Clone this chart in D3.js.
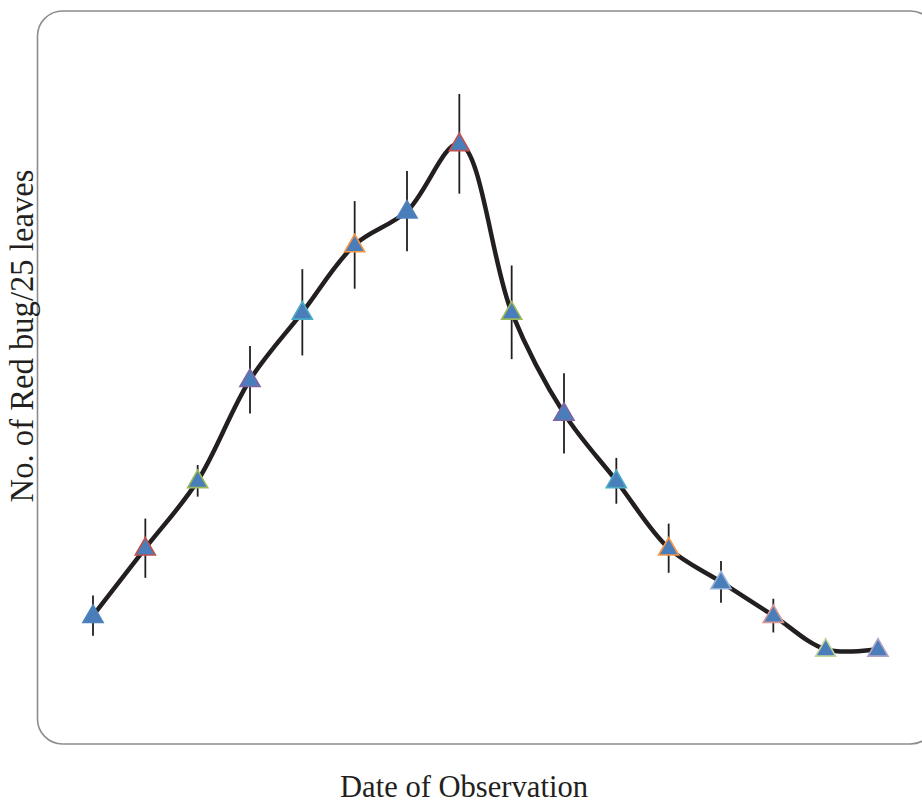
<!DOCTYPE html>
<html>
<head>
<meta charset="utf-8">
<script src="https://cdn.jsdelivr.net/npm/d3@7"></script>
<style>
  html, body { margin: 0; padding: 0; background: #fff; }
</style>
</head>
<body>
<div id="chart"></div>
<script>
// Observation dates (not labelled on the original chart)
const dates = ["Obs 1", "Obs 2", "Obs 3", "Obs 4", "Obs 5", "Obs 6", "Obs 7", "Obs 8",
  "Obs 9", "Obs 10", "Obs 11", "Obs 12", "Obs 13", "Obs 14", "Obs 15", "Obs 16"];
// Mean number of red bugs per 25 leaves
const bugs = [2, 4, 6, 9, 11, 13, 14, 16, 11, 8, 6, 4, 3, 2, 1, 1];
// Error bar half-lengths
const errors = [0.6, 0.88, 0.47, 1.0, 1.28, 1.3, 1.19, 1.48, 1.39, 1.19, 0.68, 0.73, 0.62, 0.5, 0, 0];
// Marker outline colours (Excel "vary colours by point")
const outline = ["#4f81bd", "#c0504d", "#9bbb59", "#8064a2", "#4bacc6", "#f79646",
  "#4f81bd", "#c0504d", "#9bbb59", "#8064a2", "#4bacc6", "#f79646",
  "#95b3d7", "#d99694", "#c3d69b", "#b3a2c7"];

const width = 922;
const height = 805;
const font = "'Palatino Linotype', Palatino, 'Book Antiqua', 'Liberation Serif', serif";

const data = dates.map((d, i) => ({ date: d, value: bugs[i], err: errors[i], stroke: outline[i] }));

const x = d3.scalePoint(dates, [93, 878]);
const y = d3.scaleLinear([0, 20], [683, 9]);

const svg = d3.select("#chart").append("svg")
  .attr("width", width)
  .attr("height", height)
  .attr("viewBox", [0, 0, width, height]);

// chart frame (rounded, runs off the right edge)
svg.append("rect")
  .attr("x", 37.5)
  .attr("y", 11)
  .attr("width", 898)
  .attr("height", 733)
  .attr("rx", 25)
  .attr("fill", "none")
  .attr("stroke", "#8c8c8c")
  .attr("stroke-width", 1.6);

// error bars
svg.append("g")
  .attr("stroke", "#231f20")
  .attr("stroke-width", 1.8)
  .selectAll("line")
  .data(data.filter(d => d.err > 0))
  .join("line")
  .attr("x1", d => x(d.date))
  .attr("x2", d => x(d.date))
  .attr("y1", d => y(d.value + d.err))
  .attr("y2", d => y(d.value - d.err));

// smoothed line
const line = d3.line()
  .x(d => x(d.date))
  .y(d => y(d.value))
  .curve(d3.curveCatmullRom.alpha(0.5));

svg.append("path")
  .datum(data)
  .attr("fill", "none")
  .attr("stroke", "#231f20")
  .attr("stroke-width", 4.5)
  .attr("d", line);

// triangle markers
const tri = d3.symbol(d3.symbolTriangle, 175);
svg.append("g")
  .selectAll("path")
  .data(data)
  .join("path")
  .attr("transform", d => `translate(${x(d.date)},${y(d.value) + 1})`)
  .attr("d", tri)
  .attr("fill", "#4a7ebb")
  .attr("stroke", d => d.stroke)
  .attr("stroke-width", 1.6);

// fit a title's font size to a target length
function fitText(sel, target) {
  sel.attr("font-size", 20);
  const len = sel.node().getComputedTextLength();
  sel.attr("font-size", 20 * target / len);
}

// axis titles
svg.append("text")
  .attr("x", 464)
  .attr("y", 797)
  .attr("text-anchor", "middle")
  .attr("font-family", font)
  .attr("fill", "#231f20")
  .text("Date of Observation")
  .call(fitText, 248);

svg.append("text")
  .attr("transform", "translate(33,336) rotate(-90)")
  .attr("text-anchor", "middle")
  .attr("font-family", font)
  .attr("fill", "#231f20")
  .text("No. of Red bug/25 leaves")
  .call(fitText, 333);
</script>
</body>
</html>
